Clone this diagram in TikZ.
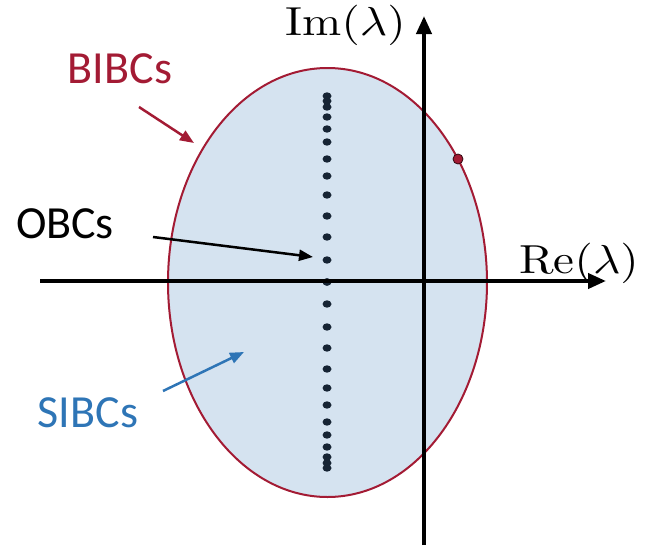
\documentclass[tikz,border=0pt]{standalone}
\usepackage{graphicx}
\usepackage{fontspec}
\newfontfamily\lblfont{Carlito}
\usetikzlibrary{arrows.meta}
\definecolor{bibc}{RGB}{163,27,52}
\definecolor{sibc}{RGB}{46,117,182}
\definecolor{efill}{RGB}{213,227,240}
\definecolor{dotc}{RGB}{22,36,52}
\newcommand{\bigmath}[1]{\scalebox{4.7}[4.05]{$#1$}}
\tikzset{
  lbl/.style={font=\lblfont\fontsize{46}{46}\selectfont, anchor=base, inner sep=0pt},
  axlbl/.style={anchor=base, inner sep=0pt},
  axis/.style={line width=4pt, -{Triangle[length=18pt,width=15pt]}},
  pointer/.style={line width=2.5pt, -{Triangle[length=14pt,width=11pt]}},
  eigdot/.style={fill=dotc, draw=none},
}
\begin{document}
\begin{tikzpicture}[x=1pt,y=-1pt]
\useasboundingbox (0,0) rectangle (654,549);
% ellipse
\draw[fill=efill, draw=bibc, line width=2pt] (327.5,282.5) ellipse [x radius=159.5, y radius=214.5];
% eigenvalue dots
\foreach \d in {0,22,45,66,87,106,123,140,153,165,175,181,186}{
  \fill[eigdot] (327,282+\d) ellipse [x radius=4.5, y radius=3.7];
  \fill[eigdot] (327,282-\d) ellipse [x radius=4.5, y radius=3.7];
}
% axes
\coordinate (xs) at (40,281);
\coordinate (xe) at (606,281);
\coordinate (ys) at (424,545);
\coordinate (ye) at (424,16);
\draw[axis] (xs) -- (xe);
\draw[axis] (ys) -- (ye);
\node[axlbl] (re) at (579,273) {\bigmath{\mathrm{Re}(\lambda)}};
\node[axlbl] (im) at (345.5,35) {\bigmath{\mathrm{Im}(\lambda)}};
% point on boundary
\node[circle, fill=bibc, draw=black!70!bibc, line width=0.8pt, minimum size=10pt, inner sep=0pt] (pt) at (458,159) {};
% labels
\node[lbl, text=bibc] (bibcs) at (120,83) {BIBCs};
\node[lbl, text=black] (obcs) at (65,238) {OBCs};
\node[lbl, text=sibc] (sibcs) at (88,427) {SIBCs};
% pointers
\coordinate (b1) at (139,107);
\coordinate (b2) at (194,143);
\coordinate (o1) at (153,237);
\coordinate (o2) at (313,257);
\coordinate (s1) at (163,391);
\coordinate (s2) at (244,352);
\draw[pointer, draw=bibc, color=bibc] (b1) -- (b2);
\draw[pointer, draw=black] (o1) -- (o2);
\draw[pointer, draw=sibc, color=sibc] (s1) -- (s2);
\end{tikzpicture}
\end{document}
